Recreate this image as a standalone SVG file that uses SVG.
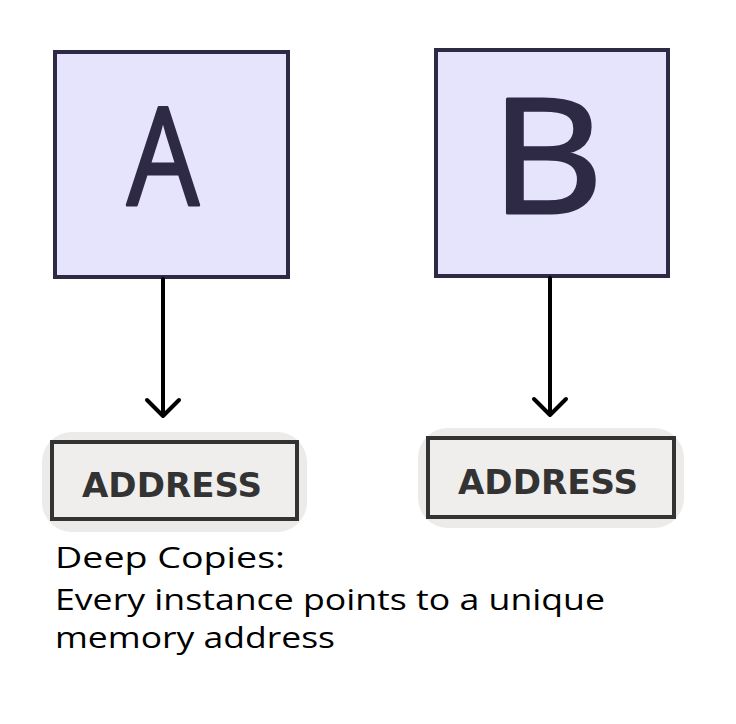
<svg xmlns="http://www.w3.org/2000/svg" width="736" height="724" viewBox="0 0 736 724">
<style>
.box{fill:#e6e3fd;stroke:#2e2a45;stroke-width:4}
.addr{fill:#efeeed;stroke:#333;stroke-width:4}
.halo{fill:#ecebea}
.big{font-family:"Open Sans","DejaVu Sans",sans-serif;fill:#2e2a45;stroke:#2e2a45;stroke-width:3;stroke-linejoin:round;text-anchor:middle}
.lbl{font-family:"DejaVu Sans",sans-serif;font-weight:bold;font-size:34px;fill:#333;text-anchor:middle}
.note{font-family:"Open Sans","DejaVu Sans",sans-serif;font-size:30px;fill:#000}
.conn{stroke:#000;stroke-width:4;fill:none;stroke-linecap:round;stroke-linejoin:round}
</style>
<rect width="736" height="724" fill="#fff"/>
<g id="nodeA">
<rect class="box" x="55" y="52" width="233" height="225"/>
<text class="big" x="163" y="205" font-size="135" textLength="72" lengthAdjust="spacingAndGlyphs">A</text>
</g>
<g id="nodeB">
<rect class="box" x="436" y="50" width="232" height="226"/>
<text class="big" x="547" y="213" font-size="160" textLength="113" lengthAdjust="spacingAndGlyphs">B</text>
</g>
<g id="addrA">
<rect class="halo" x="42" y="432" width="265" height="100" rx="30"/>
<rect class="addr" x="52" y="442" width="245" height="77"/>
<text class="lbl" x="172" y="497" textLength="180" lengthAdjust="spacingAndGlyphs">ADDRESS</text>
</g>
<g id="addrB">
<rect class="halo" x="418" y="428" width="266" height="100" rx="30"/>
<rect class="addr" x="428" y="438" width="246" height="79"/>
<text class="lbl" x="548" y="494" textLength="180" lengthAdjust="spacingAndGlyphs">ADDRESS</text>
</g>
<g id="connectors">
<path class="conn" d="M163 279 V416 M147 400 L163 416 L179 400"/>
<path class="conn" d="M550 278 V415 M534 399 L550 415 L566 399"/>
</g>
<g id="note">
<text class="note" x="55" y="568" textLength="230" lengthAdjust="spacingAndGlyphs">Deep Copies:</text>
<text class="note" x="55" y="610" textLength="550" lengthAdjust="spacingAndGlyphs">Every instance points to a unique</text>
<text class="note" x="55" y="648" textLength="280" lengthAdjust="spacingAndGlyphs">memory address</text>
</g>
</svg>
